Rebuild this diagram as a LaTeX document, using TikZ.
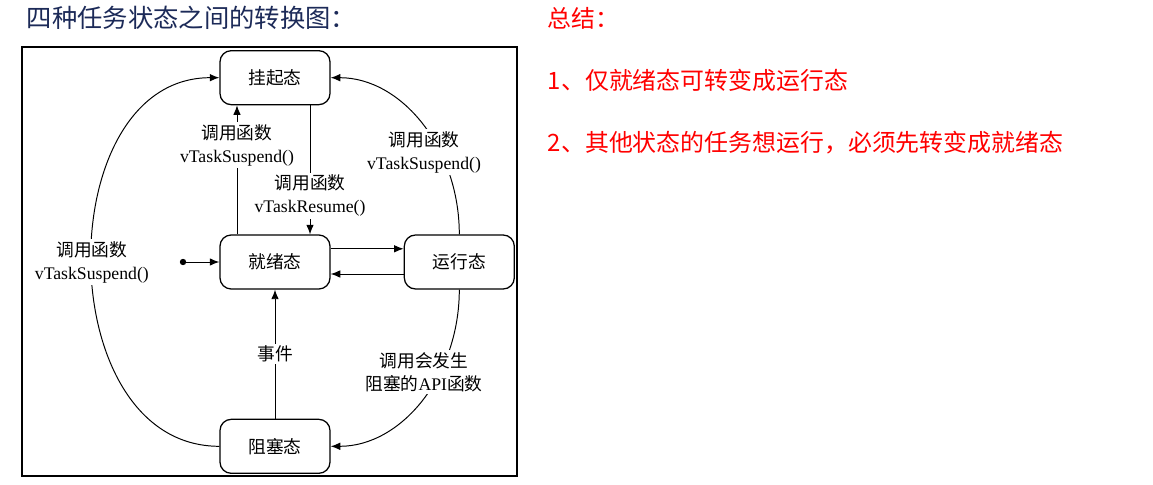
\documentclass[tikz,border=0pt]{standalone}
\usepackage{fontspec}
\setmainfont{Liberation Serif}
\newfontfamily\cjk{Noto Sans CJK SC}
\usetikzlibrary{arrows.meta,positioning}
\definecolor{TitleNavy}{HTML}{1C2A58}
\definecolor{NoteRed}{HTML}{FF0000}
\newcommand\zh[1]{{\cjk #1}}

\begin{document}
\begin{tikzpicture}[x=0.025cm,y=-0.025cm,
    state/.style={draw,rounded corners=8pt,line width=0.9pt,minimum width=2.75cm,minimum height=1.35cm,font=\fontsize{12.6}{16}\selectfont\cjk},
    trans/.style={-{Latex[length=2.4mm,width=1.9mm]},line width=0.7pt},
    lbl/.style={fill=white,align=center,inner sep=1.5pt,font=\fontsize{12.6}{16.4}\selectfont}]
    \useasboundingbox (0,0) rectangle (1153,485);
    % headings
    \node[anchor=west,text=TitleNavy,font=\fontsize{18}{22}\selectfont\cjk] (title) at (22,18) {四种任务状态之间的转换图：};
    \node[anchor=west,text=NoteRed,font=\fontsize{17}{21}\selectfont\cjk] (summary) at (543,18) {总结：};
    \node[anchor=west,text=NoteRed,font=\fontsize{17}{21}\selectfont\cjk] (note1) at (543,80) {1、仅就绪态可转变成运行态};
    \node[anchor=west,text=NoteRed,font=\fontsize{17}{21}\selectfont\cjk] (note2) at (543,143) {2、其他状态的任务想运行，必须先转变成就绪态};
    % frame
    \draw[line width=1.3pt] (22,47) rectangle (517,476);
    % states
    \node[state] (jiuxu) at (275,262) {就绪态};
    \node[state,above=3.225cm of jiuxu] (guaqi) {挂起态};
    \node[state,right=1.825cm of jiuxu] (yunxing) {运行态};
    \node[state,below=3.225cm of jiuxu] (zusai) {阻塞态};
    \node[circle,fill,inner sep=1.6pt] (init) at (183,262) {};
    % transitions
    \draw[trans] (init) -- (jiuxu);
    \draw[trans] ([yshift=0.33cm]jiuxu.east) -- ([yshift=0.33cm]yunxing.west);
    \draw[trans] ([yshift=-0.3cm]yunxing.west) -- ([yshift=-0.3cm]jiuxu.east);
    \draw[trans] ([xshift=-0.95cm]jiuxu.north) -- node[lbl,pos=0.69]{\zh{调用函数}\\vTaskSuspend()} ([xshift=-0.95cm]guaqi.south);
    \draw[trans] ([xshift=0.875cm]guaqi.south) -- node[lbl,pos=0.70]{\zh{调用函数}\\vTaskResume()} ([xshift=0.875cm]jiuxu.north);
    \draw[trans] (zusai) -- node[lbl]{\zh{事件}} (jiuxu);
    \draw[trans] (zusai.west) .. controls +(-170,0) and +(-170,0) .. node[lbl]{\zh{调用函数}\\vTaskSuspend()} (guaqi.west);
    \draw[trans] (yunxing.north) .. controls +(0,-86) and +(71,0) .. node[lbl,pos=0.35,xshift=-0.4cm]{\zh{调用函数}\\vTaskSuspend()} (guaqi.east);
    \draw[trans] (yunxing.south) .. controls +(0,86) and +(71,0) .. node[lbl,pos=0.35,xshift=-0.4cm]{\zh{调用会发生}\\\zh{阻塞的}API\zh{函数}} (zusai.east);
\end{tikzpicture}
\end{document}
